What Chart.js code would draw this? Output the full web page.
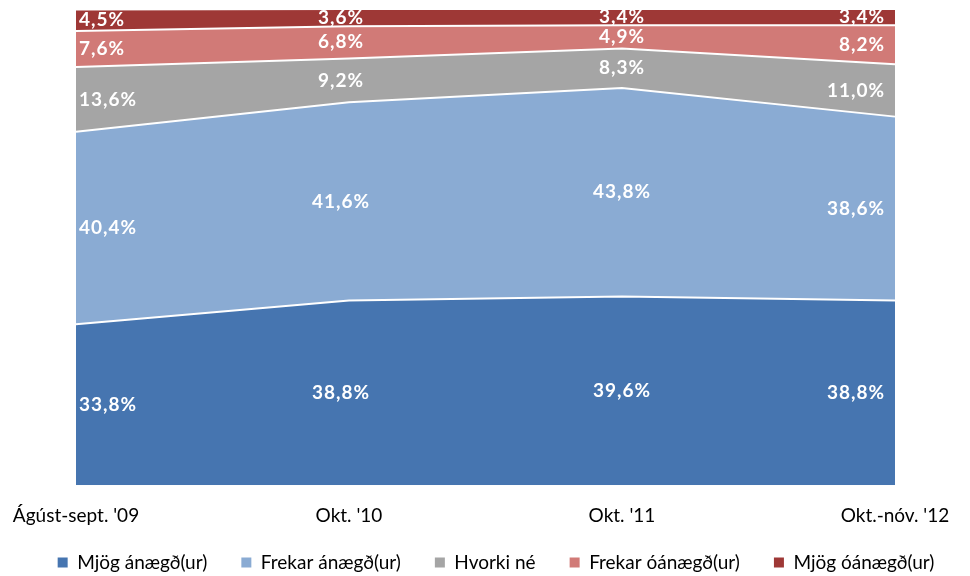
<!DOCTYPE html>
<html>
<head>
<meta charset="utf-8">
<script src="https://cdn.jsdelivr.net/npm/chart.js@4"></script>
<style>
  html, body { margin: 0; padding: 0; background: #fff; }
  #wrap { width: 970px; height: 576px; }
</style>
</head>
<body>
<div id="wrap"><canvas id="chart"></canvas></div>
<script>
const categories = ["Ágúst-sept. '09", "Okt. '10", "Okt. '11", "Okt.-nóv. '12"];
const seriesNames = ['Mjög ánægð(ur)', 'Frekar ánægð(ur)', 'Hvorki né', 'Frekar óánægð(ur)', 'Mjög óánægð(ur)'];
const mjogAnaegd = [33.8, 38.8, 39.6, 38.8];
const frekarAnaegd = [40.4, 41.6, 43.8, 38.6];
const hvorkiNe = [13.6, 9.2, 8.3, 11.0];
const frekarOanaegd = [7.6, 6.8, 4.9, 8.2];
const mjogOanaegd = [4.5, 3.6, 3.4, 3.4];
const colors = ['#4675B0', '#8AABD3', '#A5A5A5', '#D17A77', '#9E3836'];

const seriesData = [mjogAnaegd, frekarAnaegd, hvorkiNe, frekarOanaegd, mjogOanaegd];

// draws the percentage labels in the middle of each band, kept inside the plot
const bandLabels = {
  id: 'bandLabels',
  afterDatasetsDraw(chart) {
    const { ctx, chartArea } = chart;
    const y = chart.scales.y;
    ctx.save();
    ctx.font = 'bold 19px Lato';
    ctx.letterSpacing = '1px';
    ctx.fillStyle = '#fff';
    ctx.textBaseline = 'middle';
    ctx.textAlign = 'center';
    chart.data.datasets.forEach((ds, di) => {
      const meta = chart.getDatasetMeta(di);
      meta.data.forEach((pt, i) => {
        let base = 0;
        for (let k = 0; k < di; k++) base += chart.data.datasets[k].data[i];
        const v = ds.data[i];
        const text = v.toFixed(1).replace('.', ',') + '%';
        const w = ctx.measureText(text).width;
        let x = pt.x - (i === 1 ? 8 : 0);
        x = Math.max(chartArea.left + 3 + w / 2, Math.min(chartArea.right - 10 - w / 2, x));
        const yy = y.getPixelForValue(base + v / 2);
        ctx.fillText(text, x, yy);
      });
    });
    ctx.restore();
  }
};

new Chart(document.getElementById('chart'), {
  type: 'line',
  data: {
    labels: categories,
    datasets: seriesData.map((d, i) => ({
      label: seriesNames[i],
      data: d,
      backgroundColor: colors[i],
      borderColor: '#fff',
      borderWidth: 2,
      pointRadius: 0,
      tension: 0,
      fill: i === 0 ? 'origin' : '-1'
    }))
  },
  options: {
    responsive: true,
    maintainAspectRatio: false,
    animation: false,
    layout: { padding: { left: 22, right: 0, top: 9, bottom: -6 } },
    scales: {
      x: {
        offset: false,
        grid: { display: false },
        border: { display: false },
        ticks: {
          color: '#000',
          font: { family: 'Lato', size: 19 },
          padding: 11,
          maxRotation: 0,
          autoSkip: false
        },
        afterFit(scale) {
          scale.paddingLeft = 76;
          scale.paddingRight = 75;
          scale.height += 15;
        }
      },
      y: {
        stacked: true,
        display: false,
        min: 0,
        max: 100
      }
    },
    plugins: {
      legend: {
        position: 'bottom',
        labels: {
          color: '#000',
          font: { family: 'Lato', size: 19 },
          usePointStyle: true,
          pointStyle: 'rect',
          boxWidth: 10,
          boxHeight: 10,
          padding: 0,
          generateLabels(chart) {
            const items = Chart.defaults.plugins.legend.labels.generateLabels(chart);
            items.forEach((it, i) => {
              it.text = it.text + (i < items.length - 1 ? '       ' : '');
              it.fillStyle = colors[i];
              it.strokeStyle = colors[i];
              it.lineWidth = 0;
            });
            return items;
          }
        }
      },
      tooltip: { enabled: false }
    }
  },
  plugins: [bandLabels]
});
</script>
</body>
</html>
